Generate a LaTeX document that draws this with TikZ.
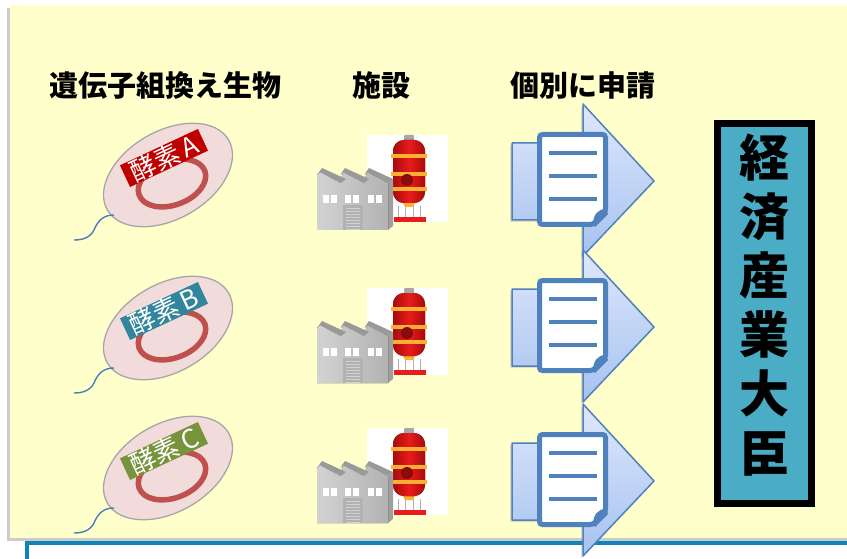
\documentclass[tikz,border=0pt]{standalone}
\usepackage{fontspec}
\setmainfont{Noto Sans CJK JP}
\usetikzlibrary{shadows}

\definecolor{paper}{RGB}{255,255,204}
\definecolor{bugpink}{RGB}{242,220,219}
\definecolor{buggray}{RGB}{166,166,166}
\definecolor{ringred}{RGB}{192,80,77}
\definecolor{tagA}{RGB}{192,0,0}
\definecolor{tagB}{RGB}{49,133,156}
\definecolor{tagC}{RGB}{119,147,60}
\definecolor{flagblue}{RGB}{74,126,187}
\definecolor{docblue}{RGB}{79,129,189}
\definecolor{arrowtop}{RGB}{222,232,252}
\definecolor{arrowbot}{RGB}{166,194,240}
\definecolor{ministerblue}{RGB}{75,172,198}
\definecolor{frameblue}{RGB}{16,132,180}
\definecolor{tankred}{RGB}{232,28,28}
\definecolor{tankdark}{RGB}{170,10,10}
\definecolor{band}{RGB}{250,176,50}

\begin{document}
\begin{tikzpicture}[x=1pt, y=-1pt,
    head/.style={font=\bfseries\fontsize{29}{29}\selectfont},
    bug/.style={fill=bugpink, draw=buggray, line width=1.3pt},
    plasmid/.style={draw=ringred, line width=5.5pt},
    tag/.style={fill=#1, text=white, font=\fontsize{26}{26}\selectfont,
                minimum width=86, minimum height=22, inner xsep=1pt, inner ysep=0pt, rotate=25},
    flag/.style={draw=flagblue, line width=1.4pt},
    arrowbox/.style={top color=arrowtop, bottom color=arrowbot, draw=docblue,
                     line width=1.5pt, line join=round,
                     drop shadow={shadow xshift=-2pt, shadow yshift=-2pt, opacity=.25}},
    sheet/.style={fill=white, draw=docblue, line width=5pt, rounded corners=3pt,
                  drop shadow={shadow xshift=-2pt, shadow yshift=-2pt, opacity=.3}},
    wall/.style={left color=gray!35, right color=gray!60},
  ]
\useasboundingbox (0,0) rectangle (847,559);
\clip (0,0) rectangle (847,559);

% board and the note frame under it
\fill[paper, drop shadow={shadow xshift=-3pt, shadow yshift=-3pt, opacity=.4}] (10,5) rectangle (880,538);
\draw[frameblue, line width=4pt, fill=white] (27,543) rectangle (890,600);

% column heads
\node[head] (gmo) at (165,85) {遺伝子組換え生物};
\node[head] (site) at (381,85) {施設};
\node[head] (apply) at (583,85) {個別に申請};

\foreach \by/\ay/\tagcol/\ltr in {175/104/tagA/A, 328/250/tagB/B, 468/404/tagC/C} {
  % bacterium with its plasmid
  \begin{scope}[shift={(0,\by)}]
    \draw[bug, rotate around={30:(168,0)}] (168,0) ellipse [x radius=70pt, y radius=44pt];
    \draw[plasmid, rotate around={20:(172,8)}] (172,8) ellipse [x radius=35pt, y radius=22pt];
    \node[tag=\tagcol] (tag-\ltr) at (164,-17) {酵素\,\ltr};
    \coordinate (flagroot-\ltr) at (114,40);
    \coordinate (flagtip-\ltr) at (74,65);
    \draw[flag] (flagroot-\ltr) .. controls (104,40) and (98,45) .. (94,55)
                .. controls (90,63) and (82,65) .. (flagtip-\ltr);
  \end{scope}

  % plant: tank on white ground, factory in front
  \begin{scope}[shift={(367,\by-40)}]
    \fill[white] (0,0) rectangle (81,87);
    \fill[gray!70, rounded corners=1pt] (37,0) rectangle (47,7);
    \fill[band] (33,62) -- (51,62) -- (46,72) -- (38,72) -- cycle;
    \fill[left color=tankdark, right color=tankdark, middle color=tankred, rounded corners=11pt]
      (26,5) rectangle (58,68);
    \foreach \yy in {19,37,52}
      \fill[band] (24,\yy) rectangle (60,\yy+4);
    \fill[tankdark!80!black] (40,45) circle [radius=6pt];
    \draw[tankred!60!black, line width=.8pt] (40,45) circle [radius=3.5pt]
      (38,43) -- (42,47) (38,47) -- (42,43);
    \foreach \xx in {31,38,46,53}
      \draw[gray!60, line width=1pt] (\xx,71) -- (\xx,83);
    \fill[tankred] (27,82) rectangle (59,87);
    % factory hall
    \fill[gray!75] (21,48) -- (26,44) -- (26,91) -- (21,95) -- cycle;
    \fill[wall] (-50,95) -- (-50,40) -- (-47,37) -- (-27,48) -- (-24,37) -- (-3,48)
      -- (0,37) -- (21,48) -- (21,95) -- cycle;
    \foreach \xx in {-47,-24,0}
      \fill[gray!80] (\xx-3,40) -- (\xx,37) -- (\xx+21,48) -- (\xx+26,44) -- (\xx+2,33) -- cycle;
    \foreach \xx in {-44,-22,1} {
      \fill[white] (\xx,60) rectangle (\xx+6,68);
      \fill[white] (\xx+8,60) rectangle (\xx+14,68);
    }
    \fill[gray!60] (-24,70) rectangle (-4,95);
    \foreach \yy in {73,76,...,94}
      \draw[gray!35, line width=.8pt] (-21,\yy) -- (-7,\yy);
  \end{scope}

  % application arrow with its sheet
  \filldraw[arrowbox] (512,\ay+39) -- (583,\ay+39) -- (583,\ay) -- (654,\ay+77)
    -- (583,\ay+152) -- (583,\ay+116) -- (512,\ay+116) -- cycle;
  \begin{scope}[shift={(537,\ay+28)}]
    \draw[sheet] (2.5,2.5) -- (68.5,2.5) -- (68.5,80) -- (56,92.5) -- (2.5,92.5) -- cycle;
    \fill[docblue] (68.5,77) .. controls (61,77) and (56,83) .. (56,92.5)
      -- (58,95) -- (71,82) -- cycle;
    \foreach \yy in {21,44,67}
      \draw[docblue, line width=4pt] (12,\yy) -- (60,\yy);
  \end{scope}
}

% minister
\node[draw=black, line width=7pt, fill=ministerblue, minimum width=94, minimum height=380,
      inner sep=0pt] (minister) at (764.5,313.5) {};
\node[font=\bfseries\fontsize{50}{59}\selectfont, align=center] (minister-name)
  at (764.5,305) {経\\済\\産\\業\\大\\臣};
\end{tikzpicture}
\end{document}
